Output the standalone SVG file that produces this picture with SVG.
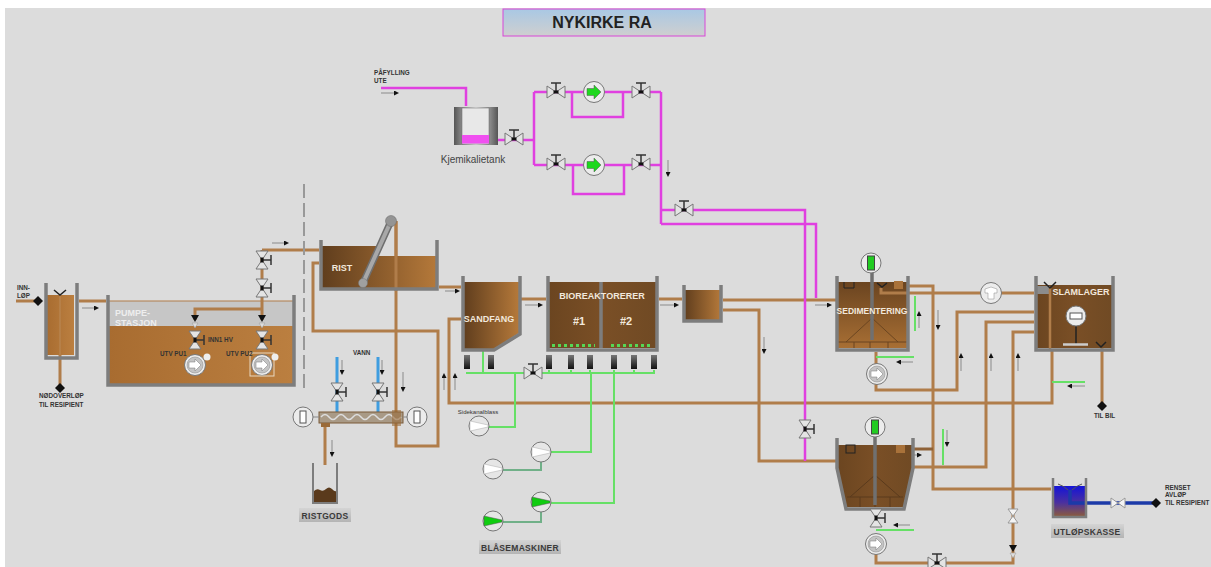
<svg xmlns="http://www.w3.org/2000/svg" width="1211" height="567" viewBox="0 0 1211 567">
<style>
text{font-family:"Liberation Sans",Arial,sans-serif}
.p{fill:none;stroke:#b07d4a;stroke-width:3}
.pd{fill:none;stroke:#8f6238;stroke-width:3}
.pt{fill:none;stroke:#b07d4a;stroke-width:1}
.m{fill:none;stroke:#e040e0;stroke-width:2.500}
.g{fill:none;stroke:#66e066;stroke-width:2}
.gd{fill:none;stroke:#70b088;stroke-width:2}
.b{fill:none;stroke:#3f9de0;stroke-width:3}
.bd{fill:none;stroke:#1c3aa8;stroke-width:3.500}
.w{fill:none;stroke:#7d7d7d;stroke-width:3.500}
.w2{fill:none;stroke:#7d7d7d;stroke-width:2.500}
.arr{fill:none;stroke:#8a8a8a;stroke-width:1;marker-end:url(#ah)}
.tw{fill:#f2e8dc;font-weight:bold;text-anchor:middle}
.s{fill:#333;font-size:6.300px;font-weight:bold}
.lab{fill:#3a3a3a;font-size:8.500px;font-weight:bold;text-anchor:middle;letter-spacing:.3px}
</style>
<defs>
<marker id="ah" markerWidth="5" markerHeight="5" refX="3" refY="2.500" orient="auto" markerUnits="userSpaceOnUse"><path d="M0 0L5 2.500L0 5Z" fill="#111"/></marker>
<linearGradient id="br" x1="0" x2="1" y1="0" y2="0"><stop offset="0" stop-color="#5f3d1d"/><stop offset="1" stop-color="#b5793a"/></linearGradient>
<linearGradient id="brd" x1="0" x2="1" y1="0" y2="0"><stop offset="0" stop-color="#6b4520"/><stop offset=".5" stop-color="#7a4f26"/><stop offset="1" stop-color="#704a24"/></linearGradient>
<linearGradient id="bv" x1="0" x2="0" y1="0" y2="1"><stop offset="0" stop-color="#6a4420"/><stop offset="1" stop-color="#a86f34"/></linearGradient>
<linearGradient id="pu" x1="0" x2="1" y1="0" y2="0"><stop offset="0" stop-color="#a86c30"/><stop offset="1" stop-color="#bb7f40"/></linearGradient>
<linearGradient id="ti" x1="0" x2="0" y1="0" y2="1"><stop offset="0" stop-color="#a9c8e4"/><stop offset="1" stop-color="#cfcfcf"/></linearGradient>
<linearGradient id="lb" x1="0" x2="0" y1="0" y2="1"><stop offset="0" stop-color="#d4d4d4"/><stop offset="1" stop-color="#b4b4b4"/></linearGradient>
<linearGradient id="tk" x1="0" x2="1" y1="0" y2="0"><stop offset="0" stop-color="#555"/><stop offset=".5" stop-color="#e8e8e8"/><stop offset="1" stop-color="#555"/></linearGradient>
<linearGradient id="ub" x1="0" x2="0" y1="0" y2="1"><stop offset="0" stop-color="#1414d8"/><stop offset=".55" stop-color="#4a30a0"/><stop offset="1" stop-color="#8a5a40"/></linearGradient>
<linearGradient id="sn" x1="0" x2="0" y1="0" y2="1"><stop offset="0" stop-color="#777"/><stop offset="1" stop-color="#111"/></linearGradient>
<g id="valve"><path d="M-9-6V6L0 0ZM9-6V6L0 0Z" fill="#e4e4e4" stroke="#777"/><path d="M0 0V-9M-5-9H5" stroke="#333" stroke-width="1.500" fill="none"/><rect x="-2.500" y="-1.500" width="5" height="3" fill="#111"/></g>
<g id="vv"><path d="M-6-9H6L0 0ZM-6 9H6L0 0Z" fill="#e4e4e4" stroke="#777"/><path d="M0 0H9M9-5V5" stroke="#333" stroke-width="1.500" fill="none"/><rect x="-1.500" y="-2.500" width="3" height="5" fill="#111"/></g>
<g id="vp"><path d="M-5-7H5L0 0ZM-5 7H5L0 0Z" fill="#f4f4f4" stroke="#999"/></g>
<g id="chk"><path d="M-4-5H4L0 2Z" fill="#111"/><path d="M-3 3H3L0 8Z" fill="#ddd" stroke="#999" stroke-width=".5"/></g>
<g id="pump"><circle r="10.500" fill="#ececec" stroke="#777"/><circle r="8" fill="#c4c4c4" stroke="#888" stroke-width=".5"/><path d="M-6-3H0V-6L6 0L0 6V3H-6Z" fill="#fff" stroke="#777" stroke-width=".5"/></g>
<g id="pumpg"><circle r="10.500" fill="#ececec" stroke="#777"/><path d="M-7-3.500H0V-7L7 0L0 7V3.500H-7Z" fill="#1ed81e" stroke="#555" stroke-width=".5"/></g>
<g id="blow"><circle r="10" fill="#e6e6e6" stroke="#777"/><path d="M-9-5L9-1V1L-9 5Z" fill="#fff" stroke="#aaa" stroke-width=".5"/></g>
<g id="blowg"><circle r="10" fill="#e6e6e6" stroke="#777"/><path d="M-9-5L9-1V1L-9 5Z" fill="#10cc10" stroke="#555" stroke-width=".5"/></g>
<g id="inst"><circle r="10" fill="#ececec" stroke="#777"/><rect x="-3.500" y="-7" width="7" height="14" fill="#22cc22" stroke="#444"/></g>
<g id="instw"><circle r="10" fill="#ececec" stroke="#777"/><rect x="-3" y="-6" width="6" height="12" fill="#fff" stroke="#555"/></g>
<path id="dia" d="M0-5L5 0L0 5L-5 0Z" fill="#111"/>
<rect id="sen" x="-3" y="-7" width="6" height="14" fill="url(#sn)"/>
</defs>
<rect width="1211" height="567" fill="#fff"/>
<rect x="5" y="8" width="1206" height="559" fill="#dcdcdc"/>

<g id="connectors">
<path class="p" d="M16 301H40M79 301H106M60 355V385M262 250H319"/>
<path class="p" d="M319 263H313V331H438V446H396V221"/>
<path class="p" d="M439 287H461M521 299H546M659 299H682M723 300H836M723 310H759V461H836"/>
<path class="p" d="M461 319H449V403H1052V350"/>
<path class="p" d="M897 286H933V489H1051M881 293H1034M1034 312H957V390H876V352M1034 322H986V467H914M1034 332H1013V563H876V535M1102 348V405"/>
<path class="pd" d="M905 449H933"/>
<path class="p" d="M325 423V465"/>
<path class="b" d="M337 357V412M378 357V412"/>
<path class="m" d="M381 88H466V106M498 140H534M534 92V165M534 92H661M534 165H661M572 92V117H623V92M573 165V194H624V165M661 92V224M661 210H805V461M661 224H816V298"/>
<path class="g" d="M466 373H655M483 350V373M549 370V373M571 370V373M590 370V373M614 370V373M634 370V373M654 370V373M515 373V427H488M591 373V452H551M614 373V503H551"/>
<path class="gd" d="M503 470H541V462M503 522H541V512"/>
<path class="g" d="M915 296V331M876 357H914M1052 382H1085M943 429V465M876 530H914"/>
<line class="arr" x1="82" y1="308" x2="97" y2="308"/>
<line class="arr" x1="272" y1="243" x2="287" y2="243"/>
<line class="arr" x1="445" y1="291" x2="458" y2="291"/>
<line class="arr" x1="525" y1="305" x2="541" y2="305"/>
<line class="arr" x1="660" y1="305" x2="677" y2="305"/>
<line class="arr" x1="815" y1="305" x2="830" y2="305"/>
<line class="arr" x1="381" y1="93" x2="397" y2="93"/>
<line class="arr" x1="668" y1="160" x2="668" y2="175"/>
<line class="arr" x1="342" y1="360" x2="342" y2="373"/>
<line class="arr" x1="382" y1="360" x2="382" y2="373"/>
<line class="arr" x1="403" y1="372" x2="403" y2="390"/>
<line class="arr" x1="332" y1="440" x2="332" y2="455"/>
<line class="arr" x1="444" y1="390" x2="444" y2="375"/>
<line class="arr" x1="455" y1="390" x2="455" y2="375"/>
<line class="arr" x1="764" y1="337" x2="764" y2="352"/>
<line class="arr" x1="919" y1="328" x2="919" y2="313"/>
<line class="arr" x1="938" y1="310" x2="938" y2="328"/>
<line class="arr" x1="961" y1="371" x2="961" y2="355"/>
<line class="arr" x1="991" y1="371" x2="991" y2="355"/>
<line class="arr" x1="1018" y1="371" x2="1018" y2="355"/>
<line class="arr" x1="913" y1="362" x2="898" y2="362"/>
<line class="arr" x1="1085" y1="386" x2="1069" y2="386"/>
<line class="arr" x1="905" y1="455" x2="920" y2="455"/>
<line class="arr" x1="910" y1="525" x2="895" y2="525"/>
<line class="arr" x1="947" y1="430" x2="947" y2="445"/>
</g>

<g id="title"><rect x="503" y="9" width="202" height="27" fill="url(#ti)" stroke="#d846d8"/><text x="602" y="28" font-size="16" font-weight="bold" text-anchor="middle" fill="#222">NYKIRKE RA</text></g>

<g id="innlop">
<text class="s" x="17" y="290">INN-</text><text class="s" x="17" y="298">LØP</text>
<rect x="46" y="295" width="28" height="60" fill="url(#pu)"/>
<path class="w" d="M46 283V358H77V283"/>
<path d="M60 295V355" stroke="#b98a58" stroke-width="1"/>
<path d="M54 290L60 295L66 290" fill="none" stroke="#222" stroke-width="1.500"/>
<use href="#dia" x="38" y="301"/>
<use href="#dia" x="60" y="388"/>
<text class="s" x="39" y="398">NØDOVERLØP</text><text class="s" x="39" y="407">TIL RESIPIENT</text>
</g>

<g id="pumpestasjon">
<rect x="108" y="301" width="186" height="25" fill="#c6c6c6"/>
<rect x="108" y="326" width="186" height="59" fill="url(#pu)"/>
<path class="pt" d="M108 301H294"/>
<path class="p" d="M262 250V320M195 320V309H262"/>
<path class="w" d="M108 295V385H294V295"/>
<text x="115" y="316" font-size="9" font-weight="bold" fill="#eee">PUMPE-</text>
<text x="115" y="326" font-size="9" font-weight="bold" fill="#eee">STASJON</text>
<use href="#vv" x="262" y="260"/><use href="#vv" x="262" y="288"/>
<use href="#chk" x="195" y="320"/><use href="#chk" x="262" y="320"/>
<use href="#vv" x="195" y="340"/><use href="#vv" x="262" y="340"/>
<use href="#pump" x="195" y="365"/><use href="#pump" x="262" y="365"/>
<rect x="250" y="353" width="24" height="23" fill="none" stroke="#e8d8c0"/>
<circle cx="207" cy="357" r="3.500" fill="#eee"/><circle cx="275" cy="357" r="3.500" fill="#eee"/>
<text class="s" x="160" y="356">UTV PU1</text><text class="s" x="226" y="356">UTV PU2</text><text class="s" x="208" y="342">INN1 HV</text>
</g>

<path id="skille" d="M304 184V388" stroke="#999" stroke-width="2" stroke-dasharray="14 5" fill="none"/>

<g id="rist">
<path d="M321 246H376V256H437V289H321Z" fill="url(#br)"/>
<path class="p" d="M396 221V291"/>
<path class="w" d="M321 240V289H437V240"/>
<path d="M363 283L391 221" stroke="#6f6f6f" stroke-width="7" stroke-linecap="round" fill="none"/>
<path d="M363 283L391 221" stroke="#a8a8a8" stroke-width="4" stroke-linecap="round" fill="none"/>
<circle cx="363" cy="283" r="4.500" fill="#a0a0a0" stroke="#777" stroke-width=".5"/><circle cx="391" cy="221" r="5.500" fill="#949494" stroke="#666" stroke-width=".5"/>
<text class="tw" x="342" y="271" font-size="9">RIST</text>
</g>

<g id="sandfang">
<path d="M463 282H519V333L494 349H463Z" fill="url(#br)"/>
<path class="w" d="M463 276V350H494L520 334V276"/>
<text class="tw" x="489" y="322" font-size="9">SANDFANG</text>
<use href="#sen" x="467" y="362"/><use href="#sen" x="491" y="362"/>
</g>

<g id="bioreaktor">
<rect x="548" y="282" width="109" height="66" fill="url(#brd)"/>
<path class="w" d="M548 276V350H657V276M601 282V348"/>
<text class="tw" x="602" y="299" font-size="9">BIOREAKTORERER</text>
<text class="tw" x="579" y="325" font-size="11">#1</text><text class="tw" x="626" y="325" font-size="11">#2</text>
<path d="M552 345.500H595M611 345.500H653" stroke="#55d855" stroke-width="3" stroke-dasharray="3 3" fill="none"/>
<use href="#sen" x="549" y="362"/><use href="#sen" x="571" y="362"/><use href="#sen" x="590" y="362"/><use href="#sen" x="614" y="362"/><use href="#sen" x="634" y="362"/><use href="#sen" x="654" y="362"/>
<use href="#valve" x="533" y="373"/>
</g>

<g id="mellomkum">
<rect x="684" y="290" width="37" height="31" fill="url(#br)"/>
<path class="w" d="M684 285V321H721V285"/>
</g>

<g id="vann">
<text class="s" x="353" y="355">VANN</text>
<use href="#vv" x="337" y="392"/><use href="#vv" x="378" y="392"/>
</g>

<g id="skrue">
<rect x="319" y="412" width="84" height="11" fill="#a99a86" stroke="#7a5a38"/>
<path d="M321 417q4-5 8 0t8 0 8 0 8 0 8 0 8 0 8 0 8 0 8 0 8 0" fill="none" stroke="#ddd" stroke-width="1.500"/>
<path d="M313 417H319M403 417H407" stroke="#888"/>
<use href="#instw" x="303" y="417"/><use href="#instw" x="417" y="417"/>
<rect x="392" y="410" width="9" height="16" fill="#9a6a38" opacity=".6"/>
<rect x="321" y="423" width="9" height="4" fill="#9a6a38"/>
</g>

<g id="ristgods">
<path d="M314 491q3-3 6-1t6-1 6 0 4 2V503H314Z" fill="#5a3a1c"/>
<path d="M313 463V503H337V463" fill="none" stroke="#7d7d7d" stroke-width="2"/>
<rect x="299" y="508" width="52" height="14" fill="url(#lb)"/><text class="lab" x="325" y="518.500">RISTGODS</text>
</g>

<g id="blaasere">
<text x="478" y="414" font-size="6" text-anchor="middle" fill="#333">Sidekanalblass</text>
<use href="#blow" x="479" y="426"/><use href="#blow" x="541" y="452"/><use href="#blow" x="493" y="469"/>
<use href="#blowg" x="541" y="502"/><use href="#blowg" x="493" y="521"/>
<rect x="479" y="540" width="82" height="14" fill="url(#lb)"/><text class="lab" x="520" y="550.500">BLÅSEMASKINER</text>
</g>

<g id="kjemikalie">
<text class="s" x="374" y="75">PÅFYLLING</text><text class="s" x="374" y="83">UTE</text>
<rect x="454" y="107" width="44" height="38" fill="url(#tk)"/>
<rect x="462" y="108" width="27" height="36" fill="#e8e8e8" stroke="#666" stroke-width=".5"/>
<rect x="462" y="135" width="27" height="8.500" fill="#f050f0"/>
<text x="473" y="163" font-size="10" text-anchor="middle" fill="#444">Kjemikalietank</text>
<use href="#valve" x="514" y="139"/>
<use href="#valve" x="556" y="92"/><use href="#pumpg" x="594" y="92"/><use href="#valve" x="641" y="92"/>
<use href="#valve" x="556" y="164"/><use href="#pumpg" x="594" y="165"/><use href="#valve" x="641" y="164"/>
<use href="#valve" x="684" y="210"/>
<use href="#vv" x="805" y="429"/>
</g>

<g id="sedimentering">
<rect x="836" y="282" width="73" height="66" fill="url(#bv)"/>
<path d="M836 342H909M846 342L872 318L898 342M854 342V348M870 342V348M888 342V348" stroke="#6b4520" fill="none"/>
<path class="p" d="M881 288V293H909"/>
<path class="w" d="M837 276V350H908V276"/>
<path d="M844 282V288H854V282" fill="none" stroke="#222"/>
<path d="M877 283L882 287L887 283" fill="none" stroke="#222" stroke-width="1.500"/>
<rect x="894" y="281" width="9" height="8" fill="#a9723a"/>
<path d="M872 272V340" stroke="#707070" stroke-width="3.500"/>
<use href="#inst" x="871" y="263"/>
<text class="tw" x="872" y="314" font-size="8.500">SEDIMENTERING</text>
<use href="#pump" x="877" y="374"/>
</g>

<g id="slamlager">
<rect x="1036" y="285" width="77" height="63" fill="url(#brd)"/>
<rect x="1036" y="286" width="14" height="8" fill="#8c8c8c"/>
<path d="M1050 288V350" stroke="#b07d4a" stroke-width="2.500"/>
<path class="w" d="M1036 276V350H1113V276"/>
<path d="M1044 282L1050 288L1056 282M1096 342L1101 347L1106 342" fill="none" stroke="#222" stroke-width="1.500"/>
<text class="tw" x="1081" y="295" font-size="9">SLAMLAGER</text>
<path d="M1076 326V344" stroke="#222" stroke-width="1.500"/>
<path d="M1063 344.500H1088" stroke="#ccc" stroke-width="2.500"/>
<use href="#instw" x="1076" y="316" transform="rotate(90 1076 316)"/>
<use href="#dia" x="1102" y="406"/>
<text class="s" x="1094" y="418">TIL BIL</text>
<circle cx="991" cy="293" r="10.500" fill="#ececec" stroke="#777"/>
<path d="M985 289L991 287L997 289V293H994V299H988V293H985Z" fill="#fff" stroke="#888" stroke-width=".5"/>
</g>

<g id="sedimentering2">
<path d="M837 445H913V468L904 507H846L837 468Z" fill="url(#brd)"/>
<path d="M847 497H903M850 497L875 475L900 497M860 497V507M875 497V507M890 497V507" stroke="#5a3a1c" fill="none"/>
<path class="w" d="M837 438V468L846 509H904L913 468V438"/>
<rect x="846" y="445" width="9" height="8" fill="none" stroke="#222"/>
<rect x="896" y="445" width="9" height="8" fill="#a9723a"/>
<path d="M875 437V505" stroke="#707070" stroke-width="3.500"/>
<use href="#inst" x="875" y="427"/>
<use href="#vv" x="876" y="518"/>
<use href="#pump" x="876" y="544"/>
<use href="#valve" x="937" y="563"/>
<use href="#vp" x="1013" y="516"/>
<use href="#chk" x="1013" y="550"/>
</g>

<g id="utlopskasse">
<rect x="1053" y="486" width="32" height="30" fill="url(#ub)"/>
<path class="bd" d="M1070 490V503H1156"/>
<path class="w2" d="M1053 478V517H1086V478"/>
<path d="M1058 484q6 2 10 6M1082 484q-6 2-10 6" fill="none" stroke="#555"/>
<use href="#vp" transform="translate(1118 503) rotate(90)"/>
<use href="#dia" x="1156" y="503"/>
<text class="s" x="1165" y="490">RENSET</text><text class="s" x="1165" y="497">AVLØP</text><text class="s" x="1165" y="505">TIL RESIPIENT</text>
<rect x="1051" y="524" width="73" height="14" fill="url(#lb)"/><text class="lab" x="1087" y="534.500">UTLØPSKASSE</text>
</g>
</svg>
